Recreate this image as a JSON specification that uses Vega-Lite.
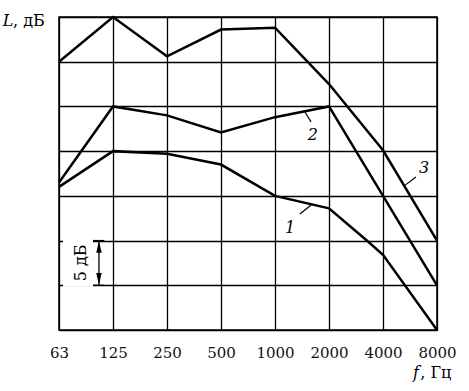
{
  "$schema": "https://vega.github.io/schema/vega-lite/v6.json",
  "width": 378,
  "height": 313,
  "autosize": "none",
  "padding": {"left": 59, "top": 17, "right": 32, "bottom": 61},
  "background": "white",
  "config": {
    "view": {"stroke": "black", "strokeWidth": 1.5},
    "font": "DejaVu Serif"
  },
  "datasets": {
    "curves": [
      {"s": "1", "i": 0, "L": 16},
      {"s": "1", "i": 1, "L": 20},
      {"s": "1", "i": 2, "L": 19.7},
      {"s": "1", "i": 3, "L": 18.5},
      {"s": "1", "i": 4, "L": 15},
      {"s": "1", "i": 5, "L": 13.6},
      {"s": "1", "i": 5.7, "L": 10},
      {"s": "1", "i": 6, "L": 8.4},
      {"s": "1", "i": 7, "L": 0},
      {"s": "2", "i": 0, "L": 16.5},
      {"s": "2", "i": 1, "L": 25},
      {"s": "2", "i": 2, "L": 24.0},
      {"s": "2", "i": 3, "L": 22.1},
      {"s": "2", "i": 4, "L": 23.8},
      {"s": "2", "i": 5, "L": 25},
      {"s": "2", "i": 6, "L": 15},
      {"s": "2", "i": 7, "L": 5},
      {"s": "3", "i": 0, "L": 30},
      {"s": "3", "i": 1, "L": 35},
      {"s": "3", "i": 2, "L": 30.6},
      {"s": "3", "i": 3, "L": 33.6},
      {"s": "3", "i": 4, "L": 33.8},
      {"s": "3", "i": 5, "L": 27.5},
      {"s": "3", "i": 6, "L": 20.1},
      {"s": "3", "i": 7, "L": 10}
    ],
    "leaders": [
      {"s": "1", "i": 4.67, "L": 13.98, "i2": 4.46, "L2": 12.98},
      {"s": "2", "i": 4.556, "L": 24.38, "i2": 4.667, "L2": 23.27},
      {"s": "3", "i": 6.41, "L": 16.2, "i2": 6.61, "L2": 17.1}
    ],
    "labels": [
      {"t": "1", "i": 4.28, "L": 11.4},
      {"t": "2", "i": 4.70, "L": 21.8},
      {"t": "3", "i": 6.76, "L": 18.1}
    ]
  },
  "layer": [
    {
      "data": {"name": "curves"},
      "mark": {"type": "line", "color": "black", "strokeWidth": 2.5, "strokeJoin": "miter"},
      "encoding": {
        "x": {
          "field": "i", "type": "quantitative",
          "scale": {"domain": [0, 7], "nice": false, "zero": false},
          "axis": {
            "values": [0, 1, 2, 3, 4, 5, 6, 7],
            "labelExpr": "['63','125','250','500','1000','2000','4000','8000'][datum.value]",
            "grid": true, "gridColor": "black", "gridWidth": 1.3, "gridOpacity": 1,
            "domain": false, "ticks": false,
            "labelFont": "DejaVu Serif", "labelFontSize": 15, "labelFontWeight": "normal", "labelColor": "#111",
            "labelPadding": 15, "labelFlush": false, "labelOverlap": false,
            "title": null
          }
        },
        "y": {
          "field": "L", "type": "quantitative",
          "scale": {"domain": [0, 35], "nice": false},
          "axis": {
            "values": [0, 5, 10, 15, 20, 25, 30, 35],
            "grid": true, "gridColor": "black", "gridWidth": 1.3, "gridOpacity": 1,
            "domain": false, "ticks": false, "labels": false, "title": null
          }
        },
        "detail": {"field": "s"}
      }
    },
    {
      "data": {"name": "leaders"},
      "mark": {"type": "rule", "color": "black", "strokeWidth": 1.2},
      "encoding": {
        "x": {"field": "i", "type": "quantitative"},
        "y": {"field": "L", "type": "quantitative"},
        "x2": {"field": "i2"},
        "y2": {"field": "L2"}
      }
    },
    {
      "data": {"name": "labels"},
      "mark": {"type": "text", "font": "DejaVu Serif", "fontStyle": "italic", "fontSize": 16, "color": "black", "align": "center", "baseline": "middle"},
      "encoding": {
        "x": {"field": "i", "type": "quantitative"},
        "y": {"field": "L", "type": "quantitative"},
        "text": {"field": "t"}
      }
    },
    {
      "data": {"values": [{"i": 0.075, "i2": 0.63, "L": 4.85, "L2": 10.15}]},
      "mark": {"type": "rect", "color": "white"},
      "encoding": {
        "x": {"field": "i", "type": "quantitative"},
        "x2": {"field": "i2"},
        "y": {"field": "L", "type": "quantitative"},
        "y2": {"field": "L2"}
      }
    },
    {
      "data": {"values": [{"i": 0.63, "i2": 0.84, "L": 10}, {"i": 0.63, "i2": 0.84, "L": 5}]},
      "mark": {"type": "rule", "color": "black", "strokeWidth": 1.3},
      "encoding": {
        "x": {"field": "i", "type": "quantitative"},
        "x2": {"field": "i2"},
        "y": {"field": "L", "type": "quantitative"}
      }
    },
    {
      "data": {"values": [{"i": 0.74, "L": 5, "L2": 10}]},
      "mark": {"type": "rule", "color": "black", "strokeWidth": 1.3},
      "encoding": {
        "x": {"field": "i", "type": "quantitative"},
        "y": {"field": "L", "type": "quantitative"},
        "y2": {"field": "L2"}
      }
    },
    {
      "data": {"values": [{"i": 0.74, "L": 9.3, "sh": "M0,-1L0.45,1L-0.45,1Z"}, {"i": 0.74, "L": 5.7, "sh": "M0,1L0.45,-1L-0.45,-1Z"}]},
      "mark": {"type": "point", "filled": true, "color": "black", "size": 144, "opacity": 1},
      "encoding": {
        "x": {"field": "i", "type": "quantitative"},
        "y": {"field": "L", "type": "quantitative"},
        "shape": {"field": "sh", "type": "nominal", "scale": null}
      }
    },
    {
      "data": {"values": [{"i": 0.41, "L": 7.5, "t": "5 дБ"}]},
      "mark": {"type": "text", "font": "DejaVu Serif", "fontSize": 16, "color": "black", "angle": 270, "align": "center", "baseline": "middle"},
      "encoding": {
        "x": {"field": "i", "type": "quantitative"},
        "y": {"field": "L", "type": "quantitative"},
        "text": {"field": "t"}
      }
    },
    {
      "data": {"values": [
        {"i": -1.04, "L": 34.0, "t": "L"},
        {"i": 6.556, "L": -5.37, "t": "f"}
      ]},
      "mark": {"type": "text", "font": "DejaVu Serif", "fontStyle": "italic", "fontSize": 16, "color": "black", "align": "left", "baseline": "alphabetic"},
      "encoding": {
        "x": {"field": "i", "type": "quantitative"},
        "y": {"field": "L", "type": "quantitative"},
        "text": {"field": "t"}
      }
    },
    {
      "data": {"values": [
        {"i": -0.85, "L": 34.0, "t": ", дБ"},
        {"i": 6.69, "L": -5.37, "t": ", Гц"}
      ]},
      "mark": {"type": "text", "font": "DejaVu Serif", "fontStyle": "normal", "fontSize": 16, "color": "black", "align": "left", "baseline": "alphabetic"},
      "encoding": {
        "x": {"field": "i", "type": "quantitative"},
        "y": {"field": "L", "type": "quantitative"},
        "text": {"field": "t"}
      }
    }
  ]
}
